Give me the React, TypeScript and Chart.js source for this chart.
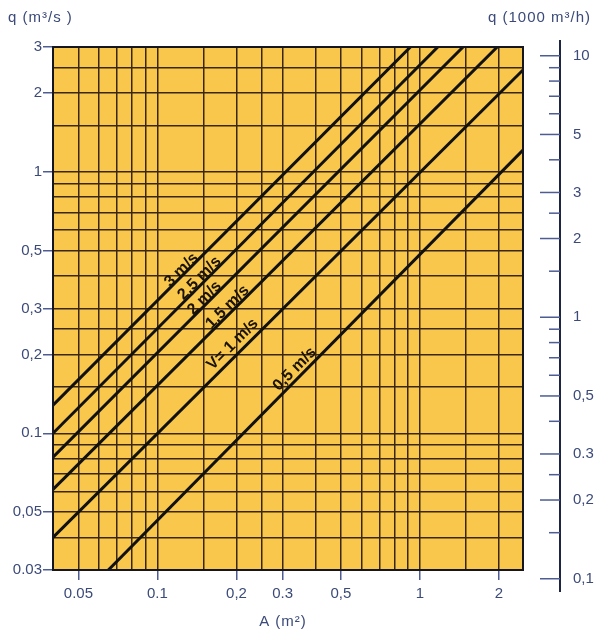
import React, { useEffect, useRef } from "react";
import { Chart, registerables } from "chart.js";

Chart.register(...registerables);

// ---- data ----
const xGrid = [0.05, 0.06, 0.07, 0.08, 0.09, 0.1, 0.15, 0.2, 0.25, 0.3, 0.4, 0.5, 0.6, 0.7, 0.8, 0.9, 1, 1.5, 2];
const xTickValues = [0.05, 0.1, 0.2, 0.3, 0.5, 1, 2];
const xTickTexts = ["0.05", "0.1", "0,2", "0.3", "0,5", "1", "2"];

const yGrid = [0.03, 0.04, 0.05, 0.06, 0.07, 0.08, 0.09, 0.1, 0.15, 0.2, 0.25, 0.3, 0.4, 0.5, 0.6, 0.7, 0.8, 0.9, 1, 1.5, 2, 2.5, 3];
const yTickValues = [0.03, 0.05, 0.1, 0.2, 0.3, 0.5, 1, 2, 3];
const yTickTexts = ["0.03", "0,05", "0.1", "0,2", "0,3", "0,5", "1", "2", "3"];

const m3sToThousandM3h = 3.6;
const rightMajor = [0.1, 0.2, 0.3, 0.5, 1, 2, 3, 5, 10];
const rightTexts = ["0,1", "0,2", "0.3", "0,5", "1", "2", "3", "5", "10"];
const rightMinor = [0.15, 0.25, 0.4, 0.6, 0.7, 0.8, 0.9, 1.5, 2.5, 4, 6, 7, 8, 9];

const xMin = 0.04;
const xMax = 2.47;
const yMin = 0.03;
const yMax = 3;

// velocity lines (endpoints)
const lineNames = ["3 m/s", "2,5 m/s", "2 m/s", "1,5 m/s", "V= 1 m/s", "0,5 m/s"];
const lineStartA = [0.04, 0.04, 0.04, 0.04, 0.04, 0.065];
const lineStartQ = [0.128, 0.1, 0.081, 0.061, 0.04, 0.03];
const lineEndA = [0.92, 1.17, 1.46, 1.97, 2.47, 2.47];
const lineEndQ = [3, 3, 3, 3, 2.45, 1.21];
// label anchor positions (data coordinates)
const labelA = [0.1235, 0.1446, 0.1512, 0.1849, 0.1934, 0.333];
const labelQ = [0.421, 0.392, 0.329, 0.304, 0.219, 0.176];

const titleLeft = "q (m³/s )";
const titleRight = "q (1000 m³/h)";
const titleBottom = "A (m²)";

// ---- styles ----
const FONT = "'Liberation Sans', Arial, Helvetica, sans-serif";
const TEXT_COLOR = "#3b4a78";
const PLOT_FILL = "#f8c74c";
const GRID_COLOR = "#3a2710";
const AXIS_COLOR = "#1e2444";

const decorPlugin = {
  id: "decor",
  beforeDraw(chart: any) {
    const { ctx, chartArea } = chart;
    ctx.save();
    ctx.fillStyle = PLOT_FILL;
    ctx.fillRect(chartArea.left, chartArea.top, chartArea.right - chartArea.left, chartArea.bottom - chartArea.top);
    ctx.restore();
  },
  afterDatasetsDraw(chart: any) {
    const { ctx, chartArea, scales } = chart;
    const x = scales.x;
    const y = scales.y;
    ctx.save();
    // plot frame
    ctx.strokeStyle = "#15161f";
    ctx.lineWidth = 2;
    ctx.strokeRect(chartArea.left, chartArea.top, chartArea.right - chartArea.left, chartArea.bottom - chartArea.top);

    // line labels
    ctx.fillStyle = "#1a1206";
    ctx.font = `bold 16px ${FONT}`;
    ctx.textAlign = "center";
    ctx.textBaseline = "middle";
    lineNames.forEach((name, i) => {
      const x0 = x.getPixelForValue(lineStartA[i]);
      const y0 = y.getPixelForValue(lineStartQ[i]);
      const x1 = x.getPixelForValue(lineEndA[i]);
      const y1 = y.getPixelForValue(lineEndQ[i]);
      const ang = Math.atan2(y1 - y0, x1 - x0);
      const px = x.getPixelForValue(labelA[i]);
      const py = y.getPixelForValue(labelQ[i]);
      ctx.save();
      ctx.translate(px, py);
      ctx.rotate(ang);
      ctx.fillText(name, 0, 0);
      ctx.restore();
    });

    // right axis line and ticks
    const y2 = scales.y2;
    const axisX = y2.left + 37;
    ctx.strokeStyle = AXIS_COLOR;
    ctx.lineWidth = 2;
    ctx.beginPath();
    ctx.moveTo(axisX, y2.top - 7);
    ctx.lineTo(axisX, y2.bottom + 22);
    ctx.stroke();
    ctx.strokeStyle = "#4d5c93";
    ctx.lineWidth = 1.5;
    rightMajor.forEach((v) => {
      const py = y2.getPixelForValue(v);
      ctx.beginPath();
      ctx.moveTo(axisX - 20, py);
      ctx.lineTo(axisX, py);
      ctx.stroke();
    });
    rightMinor.forEach((v) => {
      const py = y2.getPixelForValue(v);
      ctx.beginPath();
      ctx.moveTo(axisX - 11, py);
      ctx.lineTo(axisX, py);
      ctx.stroke();
    });

    // titles
    ctx.fillStyle = TEXT_COLOR;
    ctx.font = `15px ${FONT}`;
    (ctx as any).letterSpacing = "1px";
    ctx.textBaseline = "middle";
    ctx.textAlign = "left";
    ctx.fillText(titleLeft, 8, 18);
    ctx.textAlign = "right";
    ctx.fillText(titleRight, 591, 18);
    ctx.textAlign = "center";
    ctx.fillText(titleBottom, 283, 622);
    (ctx as any).letterSpacing = "0px";
    ctx.restore();
  },
};

const noPadY = (axis: any, w: number) => {
  axis.width = w;
  axis.paddingTop = 0;
  axis.paddingBottom = 0;
};

export default function App() {
  const canvasRef = useRef<HTMLCanvasElement | null>(null);

  useEffect(() => {
    if (!canvasRef.current) return;
    const datasets = lineNames.map((name, i) => ({
      label: name,
      data: [
        { x: lineStartA[i], y: lineStartQ[i] },
        { x: lineEndA[i], y: lineEndQ[i] },
      ],
      showLine: true,
      borderColor: "#111111",
      borderWidth: 3,
      pointRadius: 0,
      fill: false,
    }));

    const tickFont = { family: FONT, size: 15 };

    const chart = new Chart(canvasRef.current, {
      type: "scatter",
      data: { datasets },
      plugins: [decorPlugin],
      options: {
        animation: false,
        responsive: false,
        devicePixelRatio: 1,
        layout: { padding: { top: 47, left: 0, right: 0, bottom: 0 } },
        plugins: {
          legend: { display: false },
          tooltip: { enabled: false },
        },
        scales: {
          x: {
            type: "logarithmic",
            min: xMin,
            max: xMax,
            bounds: "data",
            afterBuildTicks: (axis: any) => {
              axis.ticks = xGrid.map((v) => ({ value: v }));
            },
            afterFit: (axis: any) => {
              axis.height = 64;
              axis.paddingLeft = 0;
              axis.paddingRight = 0;
            },
            grid: {
              color: GRID_COLOR,
              lineWidth: 1.5,
              tickLength: 10,
              tickColor: (c: any) =>
                c.tick && xTickValues.includes(c.tick.value) ? "#4d5c93" : "rgba(0,0,0,0)",
            },
            border: { color: AXIS_COLOR, width: 2 },
            ticks: {
              autoSkip: false,
              maxRotation: 0,
              padding: 5,
              color: TEXT_COLOR,
              font: tickFont,
              callback: (value: any) => {
                const k = xTickValues.findIndex((t) => Math.abs(t - Number(value)) < 1e-9);
                return k >= 0 ? xTickTexts[k] : "";
              },
            },
          },
          y: {
            type: "logarithmic",
            position: "left",
            min: yMin,
            max: yMax,
            bounds: "data",
            afterBuildTicks: (axis: any) => {
              axis.ticks = yGrid.map((v) => ({ value: v }));
            },
            afterFit: (axis: any) => noPadY(axis, 53),
            grid: {
              color: GRID_COLOR,
              lineWidth: 1.5,
              tickLength: 10,
              tickColor: (c: any) =>
                c.tick && yTickValues.includes(c.tick.value) ? "#4d5c93" : "rgba(0,0,0,0)",
            },
            border: { color: AXIS_COLOR, width: 2 },
            ticks: {
              autoSkip: false,
              padding: 1,
              color: TEXT_COLOR,
              font: tickFont,
              callback: (value: any) => {
                const k = yTickValues.findIndex((t) => Math.abs(t - Number(value)) < 1e-9);
                return k >= 0 ? yTickTexts[k] : "";
              },
            },
          },
          y2: {
            type: "logarithmic",
            position: "right",
            min: yMin * m3sToThousandM3h,
            max: yMax * m3sToThousandM3h,
            bounds: "data",
            afterBuildTicks: (axis: any) => {
              axis.ticks = rightMajor.map((v) => ({ value: v }));
            },
            afterFit: (axis: any) => noPadY(axis, 71),
            grid: { display: false, drawOnChartArea: false },
            border: { display: false },
            ticks: {
              autoSkip: false,
              padding: 42,
              color: TEXT_COLOR,
              font: tickFont,
              callback: (value: any) => {
                const k = rightMajor.findIndex((t) => Math.abs(t - Number(value)) < 1e-9);
                return k >= 0 ? rightTexts[k] : "";
              },
            },
          },
        },
      } as any,
    });
    return () => chart.destroy();
  }, []);

  return (
    <div style={{ position: "fixed", left: 0, top: 0, width: 594, height: 634, background: "#ffffff" }}>
      <canvas ref={canvasRef} width={594} height={634} style={{ display: "block" }} />
    </div>
  );
}
